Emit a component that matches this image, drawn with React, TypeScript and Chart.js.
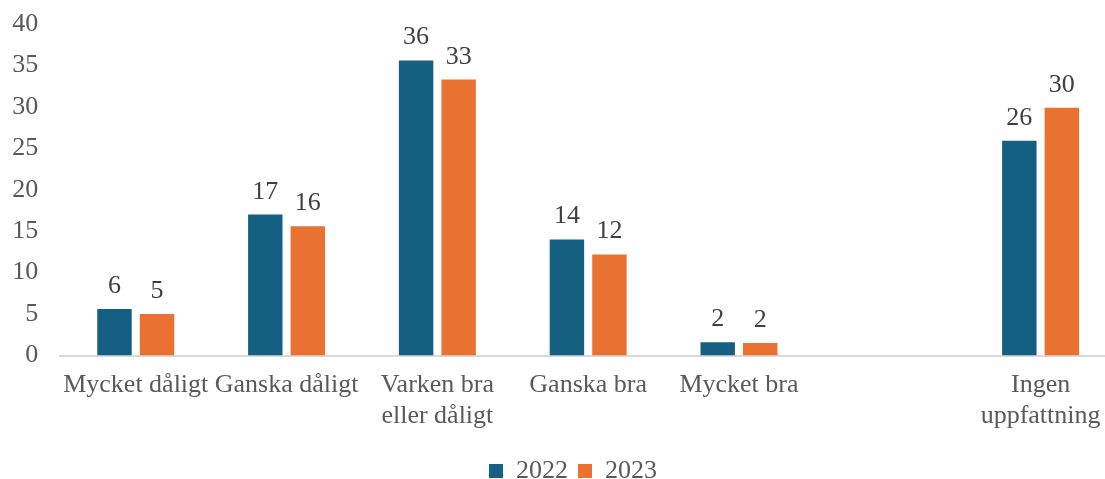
import React, { useEffect, useRef } from "react";
import { Chart, registerables } from "chart.js";

Chart.register(...registerables);

const categories: (string | string[])[] = [
  "Mycket dåligt",
  "Ganska dåligt",
  ["Varken bra", "eller dåligt"],
  "Ganska bra",
  "Mycket bra",
  "",
  ["Ingen", "uppfattning"],
];
const values2022: (number | null)[] = [5.6, 17.0, 35.6, 14.0, 1.6, null, 25.9];
const values2023: (number | null)[] = [5.0, 15.6, 33.3, 12.2, 1.5, null, 29.9];
const seriesNames = ["2022", "2023"];
const yTicks = [0, 5, 10, 15, 20, 25, 30, 35, 40];

const FONT = "'Liberation Serif', 'Times New Roman', serif";

const dataLabelPlugin = {
  id: "dataLabels",
  afterDatasetsDraw(chart: any) {
    const ctx = chart.ctx;
    ctx.save();
    ctx.font = `26px ${FONT}`;
    ctx.fillStyle = "#404040";
    ctx.textAlign = "center";
    ctx.textBaseline = "alphabetic";
    chart.data.datasets.forEach((ds: any, i: number) => {
      const meta = chart.getDatasetMeta(i);
      meta.data.forEach((el: any, j: number) => {
        const v = ds.data[j];
        if (v === null || v === undefined) return;
        ctx.fillText(String(Math.round(v)), el.x, el.y - 16);
      });
    });
    ctx.restore();
  },
};

const legendShiftPlugin = {
  id: "legendShift",
  afterLayout(chart: any) {
    if (chart.legend) {
      chart.legend.left += 15;
      chart.legend.right += 15;
    }
  },
};

export default function App() {
  const ref = useRef<HTMLCanvasElement>(null);
  useEffect(() => {
    if (!ref.current) return;
    const chart = new Chart(ref.current, {
      type: "bar",
      data: {
        labels: categories,
        datasets: [
          {
            label: seriesNames[0],
            data: values2022,
            backgroundColor: "#156082",
            categoryPercentage: 0.564,
            barPercentage: 0.81,
          },
          {
            label: seriesNames[1],
            data: values2023,
            backgroundColor: "#E97132",
            categoryPercentage: 0.564,
            barPercentage: 0.81,
          },
        ],
      },
      options: {
        animation: false,
        responsive: false,
        maintainAspectRatio: false,
        layout: { padding: { top: 0, left: 0, right: 0, bottom: 0 } },
        plugins: {
          legend: {
            position: "bottom",
            labels: {
              boxWidth: 14,
              boxHeight: 14,
              padding: 10,
              color: "#595959",
              font: { family: FONT, size: 26 },
            },
          },
          tooltip: { enabled: false },
        },
        scales: {
          x: {
            grid: { display: false, drawTicks: false },
            border: { color: "#d9d9d9", width: 2 },
            ticks: {
              color: "#595959",
              font: { family: FONT, size: 26 },
              padding: 14,
              autoSkip: false,
              maxRotation: 0,
              minRotation: 0,
            },
            afterFit(scale: any) {
              scale.height = 92.5;
            },
          },
          y: {
            min: 0,
            max: 40,
            afterBuildTicks(scale: any) {
              scale.ticks = yTicks.map((v) => ({ value: v }));
            },
            grid: { display: false, drawTicks: false },
            border: { display: false },
            ticks: {
              color: "#595959",
              font: { family: FONT, size: 26 },
              padding: 22,
            },
            afterFit(scale: any) {
              scale.width = 60.35;
              scale.paddingTop = 24;
              scale.paddingBottom = 0;
            },
          },
        },
      },
      plugins: [dataLabelPlugin, legendShiftPlugin],
    });
    return () => chart.destroy();
  }, []);
  return (
    <div
      style={{
        position: "fixed",
        top: 0,
        left: 0,
        width: 1105,
        height: 479,
        overflow: "hidden",
        background: "#ffffff",
      }}
    >
      <canvas ref={ref} width={1116} height={494} style={{ display: "block" }} />
    </div>
  );
}
